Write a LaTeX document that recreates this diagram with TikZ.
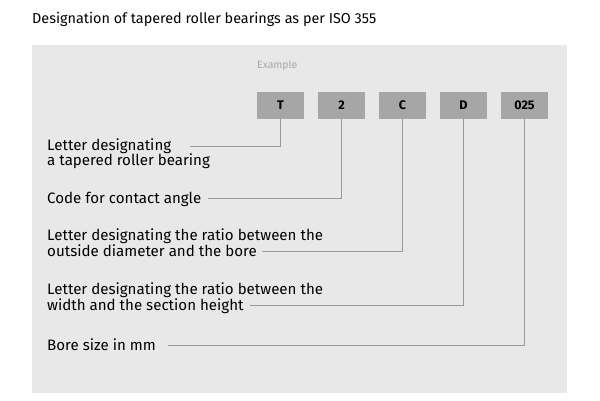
\documentclass[tikz,border=0pt]{standalone}
\usepackage{fontspec}
\setmainfont{Fira Sans}
\definecolor{panel}{HTML}{E8E8E8}
\definecolor{boxc}{HTML}{A6A6A6}
\definecolor{linec}{HTML}{9A9A9A}
\definecolor{exc}{HTML}{A8A8A8}
\begin{document}
\begin{tikzpicture}[x=1pt,y=-1pt,
  codebox/.style={fill=boxc,minimum width=47pt,minimum height=27pt,inner sep=0pt,font=\fontsize{12.5}{14}\selectfont\bfseries},
  lbl/.style={anchor=base west,inner sep=0pt,align=left,font=\fontsize{15.1}{16}\selectfont},
  conn/.style={draw=linec,line width=0.8pt}]
\useasboundingbox (0,0) rectangle (600,400);
\fill[white] (0,0) rectangle (600,400);
\node[anchor=base west,inner sep=0pt,font=\fontsize{14.4}{16}\selectfont] (title) at (32,23) {Designation of tapered roller bearings as per ISO 355};
\fill[panel] (32,45) rectangle (567,393);
\node[anchor=base west,inner sep=0pt,text=exc,font=\fontsize{10.5}{12}\selectfont] (ex) at (257,68) {Example};
\node[codebox] (bT) at (280.5,105.5) {T};
\node[codebox] (b2) at (341.5,105.5) {2};
\node[codebox] (bC) at (402.5,105.5) {C};
\node[codebox] (bD) at (463.5,105.5) {D};
\node[codebox] (b025) at (524.5,105.5) {025};
\node[lbl] (l1) at (47,150) {Letter designating};
\node[lbl] (l1b) at (47,165) {a tapered roller bearing};
\node[lbl] (l2) at (47,203) {Code for contact angle};
\node[lbl] (l3) at (47,240) {Letter designating the ratio between the};
\node[lbl] (l3b) at (47,256) {outside diameter and the bore};
\node[lbl] (l4) at (47,294) {Letter designating the ratio between the};
\node[lbl] (l4b) at (47,310) {width and the section height};
\node[lbl] (l5) at (47,350) {Bore size in mm};
\coordinate (s1) at (190,146);
\coordinate (s2) at (208,198);
\coordinate (s3) at (262,251);
\coordinate (s4) at (250,305);
\coordinate (s5) at (168,345);
\draw[conn] (s1) -| (bT.south);
\draw[conn] (s2) -| (b2.south);
\draw[conn] (s3) -| (bC.south);
\draw[conn] (s4) -| (bD.south);
\draw[conn] (s5) -| (b025.south);
\end{tikzpicture}
\end{document}
